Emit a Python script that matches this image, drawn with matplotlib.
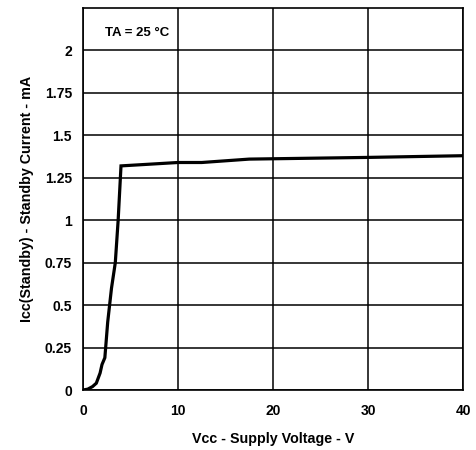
import matplotlib
matplotlib.use('Agg')
import matplotlib.pyplot as plt

plt.rcParams['font.family'] = ['Liberation Sans', 'DejaVu Sans']

# supply voltage (V) vs standby current (mA)
vcc = [0, 0.5, 1.0, 1.4, 1.8, 2.0, 2.3, 2.6, 3.0, 3.4, 3.7, 4.0, 10, 12.5, 17.5, 30, 40]
icc = [0, 0.005, 0.02, 0.04, 0.1, 0.15, 0.19, 0.4, 0.6, 0.75, 1.0, 1.32, 1.34, 1.34, 1.36, 1.37, 1.38]

xticks = [0, 10, 20, 30, 40]
yticks = [0, 0.25, 0.5, 0.75, 1, 1.25, 1.5, 1.75, 2]
yticklabels = ['0', '0.25', '0.5', '0.75', '1', '1.25', '1.5', '1.75', '2']

fig = plt.figure(figsize=(4.76, 4.5), dpi=100)
ax = fig.add_axes([83/476, 1 - 390/450, 380/476, 382/450])

ax.plot(vcc, icc, color='black', lw=2.3, solid_joinstyle='miter')

ax.set_xlim(0, 40)
ax.set_ylim(0, 2.25)
ax.set_xticks(xticks)
ax.set_yticks(yticks)
ax.set_yticklabels(yticklabels)
ax.grid(True, color='black', lw=1.1)
ax.tick_params(axis='x', length=0, pad=10, labelsize=10)
ax.tick_params(axis='y', length=0, pad=8, labelsize=10)
for lab in ax.get_xticklabels() + ax.get_yticklabels():
    lab.set_fontweight('bold')
for s in ax.spines.values():
    s.set_linewidth(1.2)

ax.set_xlabel('Vcc - Supply Voltage - V', fontsize=10.3, fontweight='bold', labelpad=10)
ax.set_ylabel('Icc(Standby) - Standby Current - mA', fontsize=10.3, fontweight='bold', labelpad=8)

ax.text(2.3, 2.1, 'TA = 25 \u00b0C', fontsize=9.5, fontweight='bold', va='center', ha='left')

fig.savefig('out.png', dpi=100)
